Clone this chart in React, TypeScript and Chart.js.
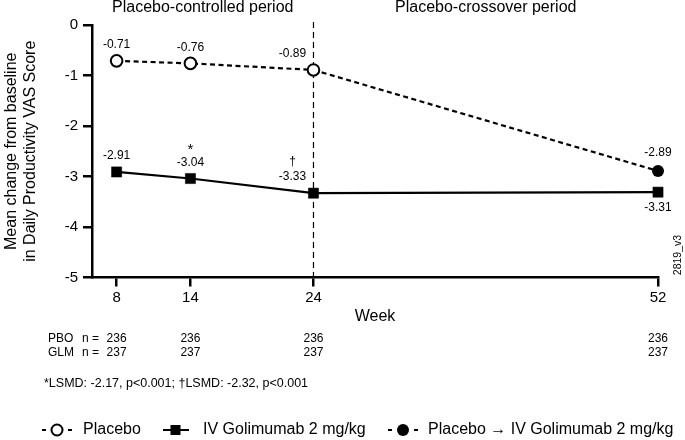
import React, { useEffect, useRef } from "react";
import { Chart, registerables } from "chart.js";

Chart.register(...registerables);

// ---- data ----
const weeks = [8, 14, 24, 52];
const placeboWeeks = [8, 14, 24];
const placeboValues = [-0.71, -0.76, -0.89];
const crossoverWeeks = [24, 52];
const crossoverValues = [-0.89, -2.89];
const golimumabWeeks = [8, 14, 24, 52];
const golimumabValues = [-2.91, -3.04, -3.33, -3.31];
const golimumabMarks = ["", "*", "\u2020", ""];
const pboN = [236, 236, 236, 236];
const glmN = [237, 237, 237, 237];
const periodTitles = ["Placebo-controlled period", "Placebo-crossover period"];
const yTitle = ["Mean change from baseline", "in Daily Productivity VAS Score"];
const xTitle = "Week";
const footnote = "*LSMD: -2.17, p<0.001; \u2020LSMD: -2.32, p<0.001";
const legendLabels = ["Placebo", "IV Golimumab 2 mg/kg", "Placebo \u2192 IV Golimumab 2 mg/kg"];
const crossoverWeek = 24;
const tableRowLabels = ["PBO", "GLM"];
const versionTag = "2819_v3";

const FONT = "'Liberation Sans', Arial, Helvetica, sans-serif";

const fmt = (v: number) => v.toFixed(2);

const overlay = {
  id: "overlay",
  beforeDatasetsDraw(chart: any) {
    const { ctx, chartArea, scales } = chart;
    const x = scales.x.getPixelForValue(crossoverWeek);
    ctx.save();
    ctx.strokeStyle = "#000";
    ctx.lineWidth = 1.2;
    ctx.setLineDash([6, 4]);
    ctx.beginPath();
    ctx.moveTo(x, chartArea.top - 3);
    ctx.lineTo(x, chartArea.bottom);
    ctx.stroke();
    ctx.restore();
  },
  afterDraw(chart: any) {
    const { ctx, chartArea, scales } = chart;
    const xs = scales.x;
    const xCross = xs.getPixelForValue(crossoverWeek);
    ctx.save();
    ctx.fillStyle = "#000";

    // period titles
    ctx.font = `16px ${FONT}`;
    ctx.textAlign = "center";
    ctx.textBaseline = "alphabetic";
    ctx.fillText(periodTitles[0], (chartArea.left + xCross) / 2, 12);
    ctx.fillText(periodTitles[1], (xCross + chartArea.right) / 2, 12);

    // data labels
    ctx.font = `12px ${FONT}`;
    ctx.textBaseline = "middle";
    const pMeta = chart.getDatasetMeta(0);
    pMeta.data.forEach((el: any, i: number) => {
      const dx = placeboWeeks[i] === crossoverWeek ? -21 : 0;
      ctx.fillText(fmt(placeboValues[i]), el.x + dx, el.y - 16);
    });
    const cMeta = chart.getDatasetMeta(1);
    cMeta.data.forEach((el: any, i: number) => {
      if (i === 0) return;
      ctx.fillText(fmt(crossoverValues[i]), el.x, el.y - 18);
    });
    const gMeta = chart.getDatasetMeta(2);
    gMeta.data.forEach((el: any, i: number) => {
      const dx = golimumabWeeks[i] === crossoverWeek ? -21 : 0;
      const below = i === golimumabValues.length - 1;
      const ly = below ? el.y + 16 : el.y - 16;
      ctx.fillText(fmt(golimumabValues[i]), el.x + dx, ly);
      if (golimumabMarks[i]) {
        ctx.font = `${golimumabMarks[i] === "*" ? 15 : 12}px ${FONT}`;
        ctx.fillText(golimumabMarks[i], el.x + dx, ly - (golimumabMarks[i] === "*" ? 13 : 15));
        ctx.font = `12px ${FONT}`;
      }
    });

    // n table
    ctx.font = `12px ${FONT}`;
    ctx.textBaseline = "middle";
    const rows = [pboN, glmN];
    const rowY = [339, 353];
    rows.forEach((row, r) => {
      ctx.textAlign = "left";
      ctx.fillText(tableRowLabels[r], 48, rowY[r]);
      ctx.fillText("n =", 82, rowY[r]);
      ctx.textAlign = "center";
      row.forEach((n, i) => {
        ctx.fillText(String(n), xs.getPixelForValue(weeks[i]), rowY[r]);
      });
    });

    // footnote
    ctx.textAlign = "left";
    ctx.font = `12.5px ${FONT}`;
    ctx.fillText(footnote, 44, 384);

    // version tag
    ctx.save();
    ctx.font = `10.5px ${FONT}`;
    ctx.translate(678, 255);
    ctx.rotate(-Math.PI / 2);
    ctx.textAlign = "center";
    ctx.fillText(versionTag, 0, 0);
    ctx.restore();

    // legend
    const ly = 430;
    ctx.font = `16px ${FONT}`;
    ctx.textAlign = "left";
    ctx.textBaseline = "middle";
    ctx.strokeStyle = "#000";
    ctx.lineWidth = 2;
    const dots = (cx: number) => {
      ctx.beginPath();
      ctx.moveTo(cx - 15, ly); ctx.lineTo(cx - 11, ly);
      ctx.moveTo(cx + 11, ly); ctx.lineTo(cx + 15, ly);
      ctx.stroke();
    };
    // item 1
    dots(57);
    ctx.beginPath();
    ctx.arc(57, ly, 5.5, 0, Math.PI * 2);
    ctx.fillStyle = "#fff";
    ctx.fill();
    ctx.stroke();
    ctx.fillStyle = "#000";
    ctx.fillText(legendLabels[0], 83, ly);
    // item 2
    ctx.beginPath();
    ctx.moveTo(163, ly); ctx.lineTo(189, ly);
    ctx.stroke();
    ctx.fillRect(170.5, ly - 5, 10, 10);
    ctx.fillText(legendLabels[1], 203, ly);
    // item 3
    dots(403);
    ctx.beginPath();
    ctx.arc(403, ly, 6, 0, Math.PI * 2);
    ctx.fill();
    ctx.fillText(legendLabels[2], 428, ly);

    ctx.restore();
  },
};

export default function App() {
  const canvasRef = useRef<HTMLCanvasElement | null>(null);

  useEffect(() => {
    const canvas = canvasRef.current;
    if (!canvas) return;
    const chart = new Chart(canvas, {
      type: "line",
      data: {
        datasets: [
          {
            label: legendLabels[0],
            data: placeboWeeks.map((w, i) => ({ x: w, y: placeboValues[i] })),
            borderColor: "#000",
            borderWidth: 2.2,
            borderDash: [5, 3.5],
            pointStyle: "circle",
            pointRadius: 5.8,
            pointBorderWidth: 2,
            pointBackgroundColor: "#fff",
            pointBorderColor: "#000",
            clip: false,
          },
          {
            label: legendLabels[2],
            data: crossoverWeeks.map((w, i) => ({ x: w, y: crossoverValues[i] })),
            borderColor: "#000",
            borderWidth: 2.2,
            borderDash: [5, 3.5],
            pointStyle: "circle",
            pointRadius: [0, 6],
            pointBorderWidth: 0,
            pointBackgroundColor: "#000",
            pointBorderColor: "#000",
            clip: false,
          },
          {
            label: legendLabels[1],
            data: golimumabWeeks.map((w, i) => ({ x: w, y: golimumabValues[i] })),
            borderColor: "#000",
            borderWidth: 2.2,
            pointStyle: "rect",
            pointRadius: 7.2,
            pointBorderWidth: 0.5,
            pointBackgroundColor: "#000",
            pointBorderColor: "#000",
            clip: false,
          },
        ],
      },
      options: {
        responsive: false,
        animation: false,
        devicePixelRatio: 1,
        layout: { padding: { top: 25, right: 27, bottom: 112.5, left: 0 } },
        plugins: {
          legend: { display: false },
          tooltip: { enabled: false },
        },
        font: { family: FONT },
        scales: {
          x: {
            type: "linear",
            min: 6,
            max: 52,
            afterBuildTicks: (scale: any) => {
              scale.ticks = weeks.map((w) => ({ value: w }));
            },
            afterFit: (scale: any) => {
              scale.height = 50;
            },
            ticks: {
              color: "#000",
              font: { family: FONT, size: 15 },
              padding: 2,
              autoSkip: false,
              maxRotation: 0,
              callback: (v: any) => String(v),
            },
            grid: {
              display: true,
              drawOnChartArea: false,
              drawTicks: true,
              tickLength: 9,
              color: "#000",
              lineWidth: 2.5,
            },
            border: { display: true, color: "#000", width: 2.5 },
            title: {
              display: true,
              text: xTitle,
              color: "#000",
              font: { family: FONT, size: 16 },
              padding: { top: 0, bottom: 1 },
            },
          },
          y: {
            type: "linear",
            min: -5,
            max: 0,
            afterFit: (scale: any) => {
              scale.width = 92;
            },
            ticks: {
              stepSize: 1,
              color: "#000",
              font: { family: FONT, size: 15 },
              padding: 5,
            },
            grid: {
              display: true,
              drawOnChartArea: false,
              drawTicks: true,
              tickLength: 9,
              color: "#000",
              lineWidth: 2.5,
            },
            border: { display: true, color: "#000", width: 2.5 },
            title: {
              display: true,
              text: yTitle,
              color: "#000",
              font: { family: FONT, size: 16 },
              padding: { top: 2, bottom: 0 },
            },
          },
        },
      },
      plugins: [overlay],
    } as any);
    return () => chart.destroy();
  }, []);

  return (
    <div style={{ position: "fixed", left: 0, top: 0, width: 685, height: 440, background: "#fff" }}>
      <canvas ref={canvasRef} width={685} height={440} />
    </div>
  );
}
